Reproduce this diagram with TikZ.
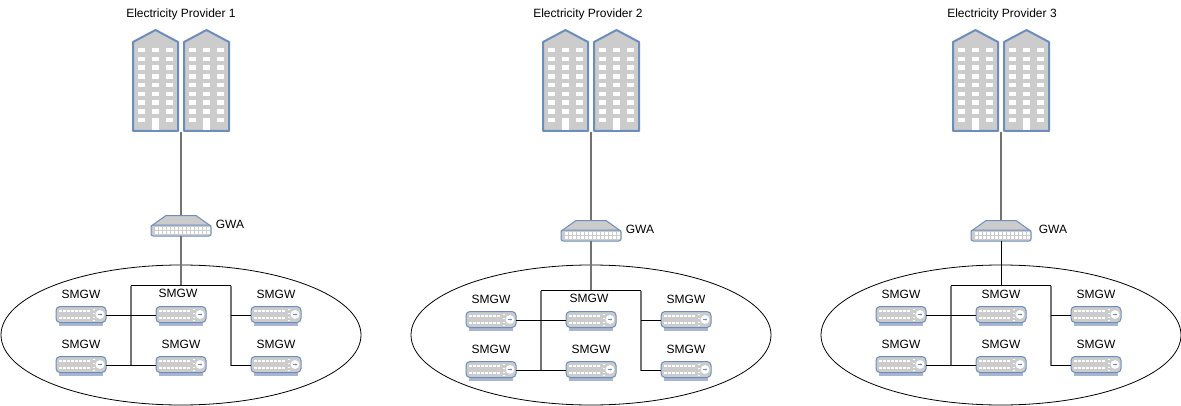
\documentclass[tikz,border=0pt]{standalone}
\usepackage{fontspec}
\setmainfont{Liberation Sans}
\usetikzlibrary{shapes.geometric}
\definecolor{iconfill}{HTML}{CCCCCC}
\definecolor{iconline}{HTML}{6C8EBF}
\definecolor{iconfoot}{HTML}{A9B6CC}
\tikzstyle{txt}=[inner sep=0pt,font=\fontsize{9pt}{11pt}\selectfont]
\tikzstyle{cloud}=[ellipse,draw=black,line width=0.6pt,minimum width=270pt,minimum height=105pt,inner sep=0pt]
\tikzstyle{smgw}=[rectangle,minimum width=37.5pt,minimum height=15pt,inner sep=0pt]
\tikzstyle{gwa}=[rectangle,minimum width=45pt,minimum height=15.75pt,inner sep=0pt]
\tikzstyle{connect}=[draw=black,line width=0.75pt]
\tikzstyle{connectv}=[draw=black!55,line width=1.4pt]
\tikzstyle{shell}=[fill=iconfill,draw=iconline,line join=round]
% one building, #1 is its left edge
\newcommand{\tower}[1]{
\begin{scope}[shift={(#1,0)}]
	\draw[shell,line width=1.5pt] (0,131) -- (0,42) -- (22.5,30) -- (45,42) -- (45,131) -- cycle;
	\foreach \r in {0,...,8} \foreach \c in {0,14,28}
		\fill[white] (5+\c,48+8.75*\r) rectangle (12+\c,52.5+8.75*\r);
	\fill[white] (19,119) rectangle (26,130.2);
\end{scope}}
% gateway icon with its node, #2 and #3 are the centre
\newcommand{\gwaicon}[3]{
\node[gwa] (#1) at (#2,#3) {};
\begin{scope}[shift={(#2,#3)}]
	\fill[iconfill,draw=iconline,line width=0.75pt] (-15,-10) -- (15,-10) -- (29,0) -- (-29,0) -- cycle;
	\draw[shell,line width=0.75pt,rounded corners=1.5pt] (-30,-0.5) rectangle (30,10.5);
	\foreach \c in {0,...,13} {
		\fill[white] (-26+4*\c,1.7) rectangle (-23+4*\c,4);
		\fill[white] (-26+4*\c,5.7) rectangle (-23+4*\c,8);
	}
\end{scope}}
% meter gateway icon with its node, #2 and #3 are the centre
\newcommand{\smgwicon}[3]{
\node[smgw] (#1) at (#2,#3) {};
\begin{scope}[shift={(#2,#3)}]
	\fill[iconfoot] (-22,6) rectangle (22,10);
	\draw[shell,line width=0.75pt,rounded corners=3pt] (-25,-9) rectangle (25,7);
	\foreach \r in {-5.5,1} \foreach \c in {0,...,7}
		\fill[white] (-22+4*\c,\r) rectangle (-19.4+4*\c,\r+2.4);
	\foreach \r in {-7,-3,1,4} \fill[white] (12,\r) rectangle (14,\r+1.6);
	\fill[white] (19,-1) circle (4.4);
	\draw[iconline,line width=0.6pt] (16.8,-1) -- (20,-1);
	\fill[iconline] (21.2,-1) -- (19.6,-2.2) -- (19.6,0.2) -- cycle;
\end{scope}}

\begin{document}
\begin{tikzpicture}[x=0.75pt,y=-0.75pt]
\useasboundingbox (0,0) rectangle (1181,406);
	\node[cloud] (e_1) at (181,335) {};
	\node[cloud] (e_2) at (591,335) {};
	\node[cloud] (e_3) at (1001,335) {};

	\node[txt] (t_1) at (181,14) {Electricity Provider 1};
	\node[txt] (t_2) at (588,14) {Electricity Provider 2};
	\node[txt] (t_3) at (1002,14) {Electricity Provider 3};

	\tower{133} \tower{184}
	\tower{543} \tower{594}
	\tower{953} \tower{1004}
	\coordinate (b_1) at (181,132);
	\coordinate (b_2) at (591,132);
	\coordinate (b_3) at (1001,132);

	\gwaicon{g_1}{181}{225.5}
	\gwaicon{g_2}{591}{230.5}
	\gwaicon{g_3}{1001}{230.5}
	\node[txt] (a_1) at (230,224) {GWA};
	\node[txt] (a_2) at (640,229) {GWA};
	\node[txt] (a_3) at (1053,229) {GWA};

	\smgwicon{s_11}{81}{315.5}
	\smgwicon{s_12}{181}{315.5}
	\smgwicon{s_13}{276}{315.5}
	\smgwicon{s_14}{81}{365.5}
	\smgwicon{s_15}{181}{365.5}
	\smgwicon{s_16}{276}{365.5}
	\smgwicon{s_21}{491}{320.5}
	\smgwicon{s_22}{591}{320.5}
	\smgwicon{s_23}{686}{320.5}
	\smgwicon{s_24}{491}{370.5}
	\smgwicon{s_25}{591}{370.5}
	\smgwicon{s_26}{686}{370.5}
	\smgwicon{s_31}{901}{315.5}
	\smgwicon{s_32}{1001}{315.5}
	\smgwicon{s_33}{1096}{315.5}
	\smgwicon{s_34}{901}{365.5}
	\smgwicon{s_35}{1001}{365.5}
	\smgwicon{s_36}{1096}{365.5}

	\node[txt] (l_11) at (81,294) {SMGW};
	\node[txt] (l_12) at (178,293.5) {SMGW};
	\node[txt] (l_13) at (276,294) {SMGW};
	\node[txt] (l_14) at (81,344) {SMGW};
	\node[txt] (l_15) at (181,344) {SMGW};
	\node[txt] (l_16) at (276,344) {SMGW};
	\node[txt] (l_21) at (491,299) {SMGW};
	\node[txt] (l_22) at (589,298.5) {SMGW};
	\node[txt] (l_23) at (686,299) {SMGW};
	\node[txt] (l_24) at (491,349) {SMGW};
	\node[txt] (l_25) at (591,349) {SMGW};
	\node[txt] (l_26) at (686,349) {SMGW};
	\node[txt] (l_31) at (901,294) {SMGW};
	\node[txt] (l_32) at (1001,294) {SMGW};
	\node[txt] (l_33) at (1096,294) {SMGW};
	\node[txt] (l_34) at (901,344) {SMGW};
	\node[txt] (l_35) at (1001,344) {SMGW};
	\node[txt] (l_36) at (1096,344) {SMGW};

	\coordinate (j_11) at (131,285.5);
	\coordinate (j_12) at (231,285.5);
	\coordinate (h_1) at (181,285.5);
	\coordinate (j_21) at (541,290.5);
	\coordinate (j_22) at (641,290.5);
	\coordinate (h_2) at (591,290.5);
	\coordinate (j_31) at (951,285.5);
	\coordinate (j_32) at (1051,285.5);
	\coordinate (h_3) at (1001,285.5);

	\path[connect]
		(b_1) edge [connectv] (g_1)
		(g_1) edge [connectv] (h_1)
		(j_11) edge [connectv] (j_11 |- s_14)
		(j_12) edge [connectv] (j_12 |- s_16)
		(j_12 |- s_13) edge (s_13.west)
		(j_12 |- s_16) edge (s_16.west)
		(j_11) edge (j_12)
		(s_11) edge (s_12)
		(s_14) edge (s_15)
		(b_2) edge [connectv] (g_2)
		(g_2) edge [connectv] (h_2)
		(j_21) edge [connectv] (j_21 |- s_24)
		(j_22) edge [connectv] (j_22 |- s_26)
		(j_22 |- s_23) edge (s_23.west)
		(j_22 |- s_26) edge (s_26.west)
		(j_21) edge (j_22)
		(s_21) edge (s_22)
		(s_24) edge (s_25)
		(b_3) edge [connectv] (g_3)
		(g_3) edge (h_3)
		(j_31) edge [connectv] (j_31 |- s_34)
		(j_32) edge [connectv] (j_32 |- s_36)
		(j_32 |- s_33) edge (s_33.west)
		(j_32 |- s_36) edge (s_36.west)
		(j_31) edge (j_32)
		(s_31) edge (s_32)
		(s_34) edge (s_35);
\end{tikzpicture}
\end{document}
